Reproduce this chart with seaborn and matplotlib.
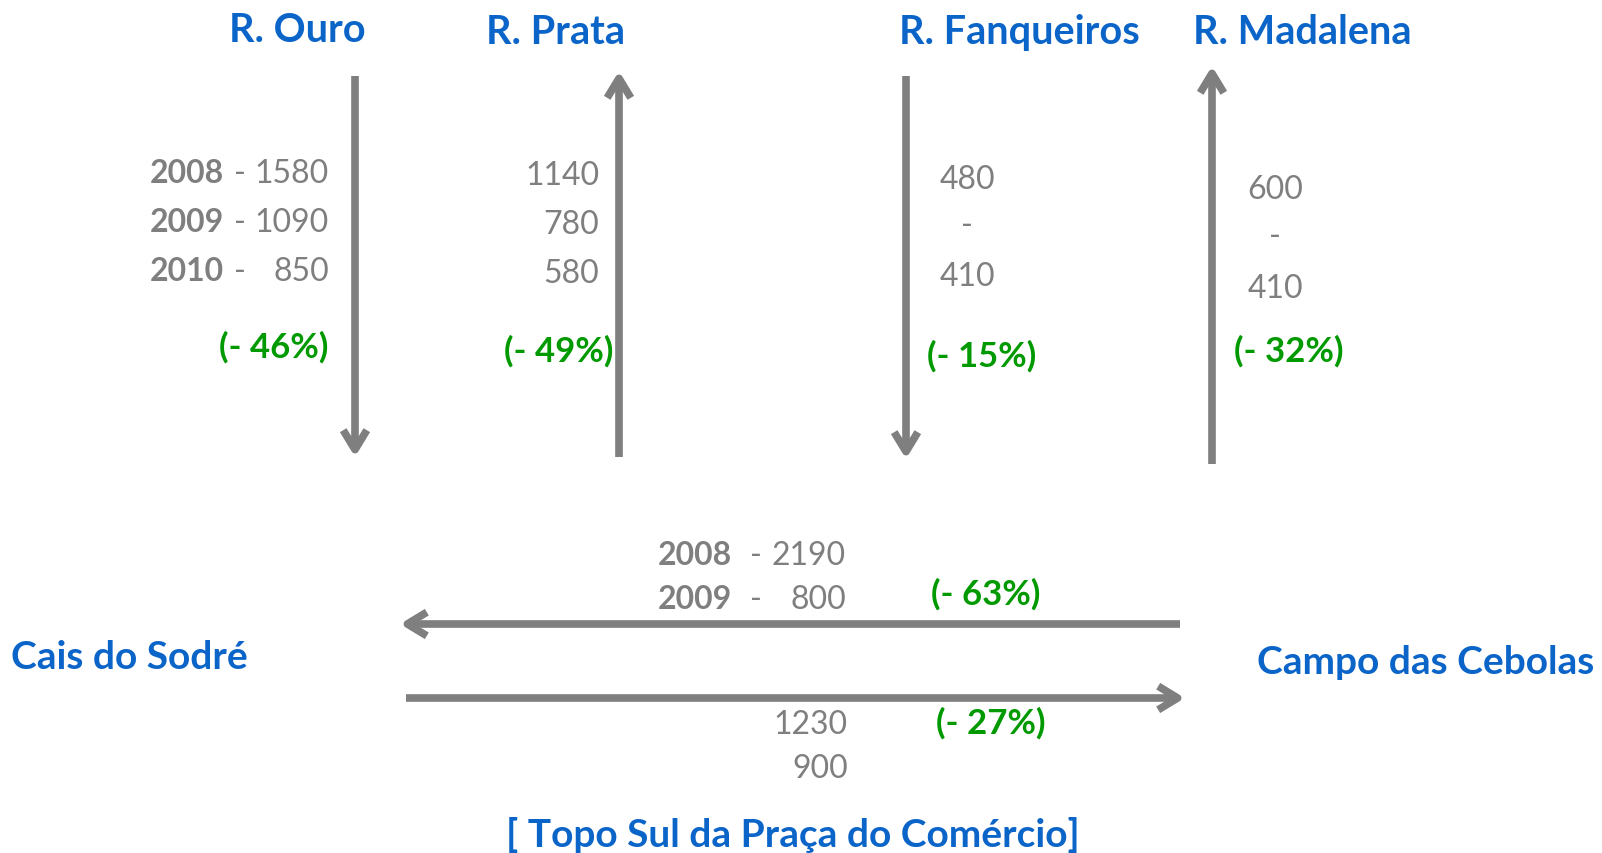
import matplotlib
matplotlib.use('Agg')
import matplotlib.pyplot as plt
from matplotlib.patches import FancyArrowPatch
import seaborn as sns

# data: traffic counts per street and year
streets = ["R. Ouro", "R. Prata", "R. Fanqueiros", "R. Madalena"]
ouro_years = ["2008", "2009", "2010"]
ouro_vals = ["1580", "1090", "850"]
prata_vals = ["1140", "780", "580"]
fanqueiros_vals = ["480", "-", "410"]
madalena_vals = ["600", "-", "410"]
street_changes = ["(- 46%)", "(- 49%)", "(- 15%)", "(- 32%)"]

west_years = ["2008", "2009"]
west_vals = ["2190", "800"]
east_vals = ["1230", "900"]
south_changes = ["(- 63%)", "(- 27%)"]

left_place = "Cais do Sodré"
right_place = "Campo das Cebolas"
footer = "[ Topo Sul da Praça do Comércio]"

# layout (pixel coordinates of the 1602x854 canvas)
title_x = [297, 555, 1019, 1302]
title_y = [42, 44, 44, 44]
arrow_x = [355, 619, 906, 1212]
arrow_top = [77, 72, 77, 67]
arrow_bot = [458, 458, 460, 465]
arrow_down = [True, False, True, False]
row_y = {"ouro": [183, 232, 281], "prata": [185, 234, 283],
         "fanq": [189, 235, 286], "mad": [199, 246, 298]}
change_pos = [(328, 358, 'right'), (613, 362, 'right'),
              (982, 367, 'center'), (1289, 362, 'center')]

sns.set_theme(style="white")
plt.rcParams['font.family'] = ['Lato', 'DejaVu Sans']

GRAY = "#7f7f7f"
BLUE = "#0b64c8"
GREEN = "#009a00"
NUM = 23
PCT = 25
HEAD = 28.5
PLACE = 28

fig = plt.figure(figsize=(16.02, 8.54), dpi=100)
ax = fig.add_axes([0, 0, 1, 1])
ax.set_xlim(0, 1602)
ax.set_ylim(854, 0)
ax.axis('off')


def arrow(x0, y0, x1, y1):
    a = FancyArrowPatch((x0, y0), (x1, y1),
                        arrowstyle='->,head_length=14,head_width=8.5',
                        mutation_scale=1, lw=5.5, color=GRAY,
                        shrinkA=0, shrinkB=0,
                        capstyle='butt', joinstyle='round')
    ax.add_patch(a)


# street titles and vertical arrows
for i, name in enumerate(streets):
    ax.text(title_x[i], title_y[i], name, color=BLUE, fontsize=HEAD,
            fontweight='bold', ha='center', va='baseline')
    if arrow_down[i]:
        arrow(arrow_x[i], arrow_top[i], arrow_x[i], arrow_bot[i])
    else:
        arrow(arrow_x[i], arrow_bot[i], arrow_x[i], arrow_top[i])

# R. Ouro
for yr, v, y in zip(ouro_years, ouro_vals, row_y["ouro"]):
    ax.text(150, y, yr, color=GRAY, fontsize=NUM, fontweight='bold',
            ha='left', va='baseline')
    ax.text(240, y, "-", color=GRAY, fontsize=NUM, ha='center', va='baseline')
    ax.text(329, y, v, color=GRAY, fontsize=NUM, ha='right', va='baseline')

# R. Prata
for v, y in zip(prata_vals, row_y["prata"]):
    ax.text(599, y, v, color=GRAY, fontsize=NUM, ha='right', va='baseline')

# R. Fanqueiros / R. Madalena
for v, y in zip(fanqueiros_vals, row_y["fanq"]):
    ax.text(967, y, v, color=GRAY, fontsize=NUM, ha='center', va='baseline')
for v, y in zip(madalena_vals, row_y["mad"]):
    ax.text(1275, y, v, color=GRAY, fontsize=NUM, ha='center', va='baseline')

for (x, y, ha), c in zip(change_pos, street_changes):
    ax.text(x, y, c, color=GREEN, fontsize=PCT, fontweight='bold',
            ha=ha, va='baseline')

# horizontal arrows along the south side
arrow(1180, 625, 400, 625)
arrow(406, 699, 1185, 699)

for yr, v, y in zip(west_years, west_vals, [565, 609]):
    ax.text(658, y, yr, color=GRAY, fontsize=NUM, fontweight='bold',
            ha='left', va='baseline')
    ax.text(756, y, "-", color=GRAY, fontsize=NUM, ha='center', va='baseline')
    ax.text(846, y, v, color=GRAY, fontsize=NUM, ha='right', va='baseline')
for v, y in zip(east_vals, [734, 778]):
    ax.text(848, y, v, color=GRAY, fontsize=NUM, ha='right', va='baseline')

ax.text(986, 605, south_changes[0], color=GREEN, fontsize=PCT,
        fontweight='bold', ha='center', va='baseline')
ax.text(991, 734, south_changes[1], color=GREEN, fontsize=PCT,
        fontweight='bold', ha='center', va='baseline')

ax.text(11, 669, left_place, color=BLUE, fontsize=PLACE, fontweight='bold',
        ha='left', va='baseline')
ax.text(1594, 674, right_place, color=BLUE, fontsize=PLACE,
        fontweight='bold', ha='right', va='baseline')
ax.text(793, 847, footer, color=BLUE, fontsize=PLACE, fontweight='bold',
        ha='center', va='baseline')

fig.savefig("out.png", dpi=100, facecolor='white')
